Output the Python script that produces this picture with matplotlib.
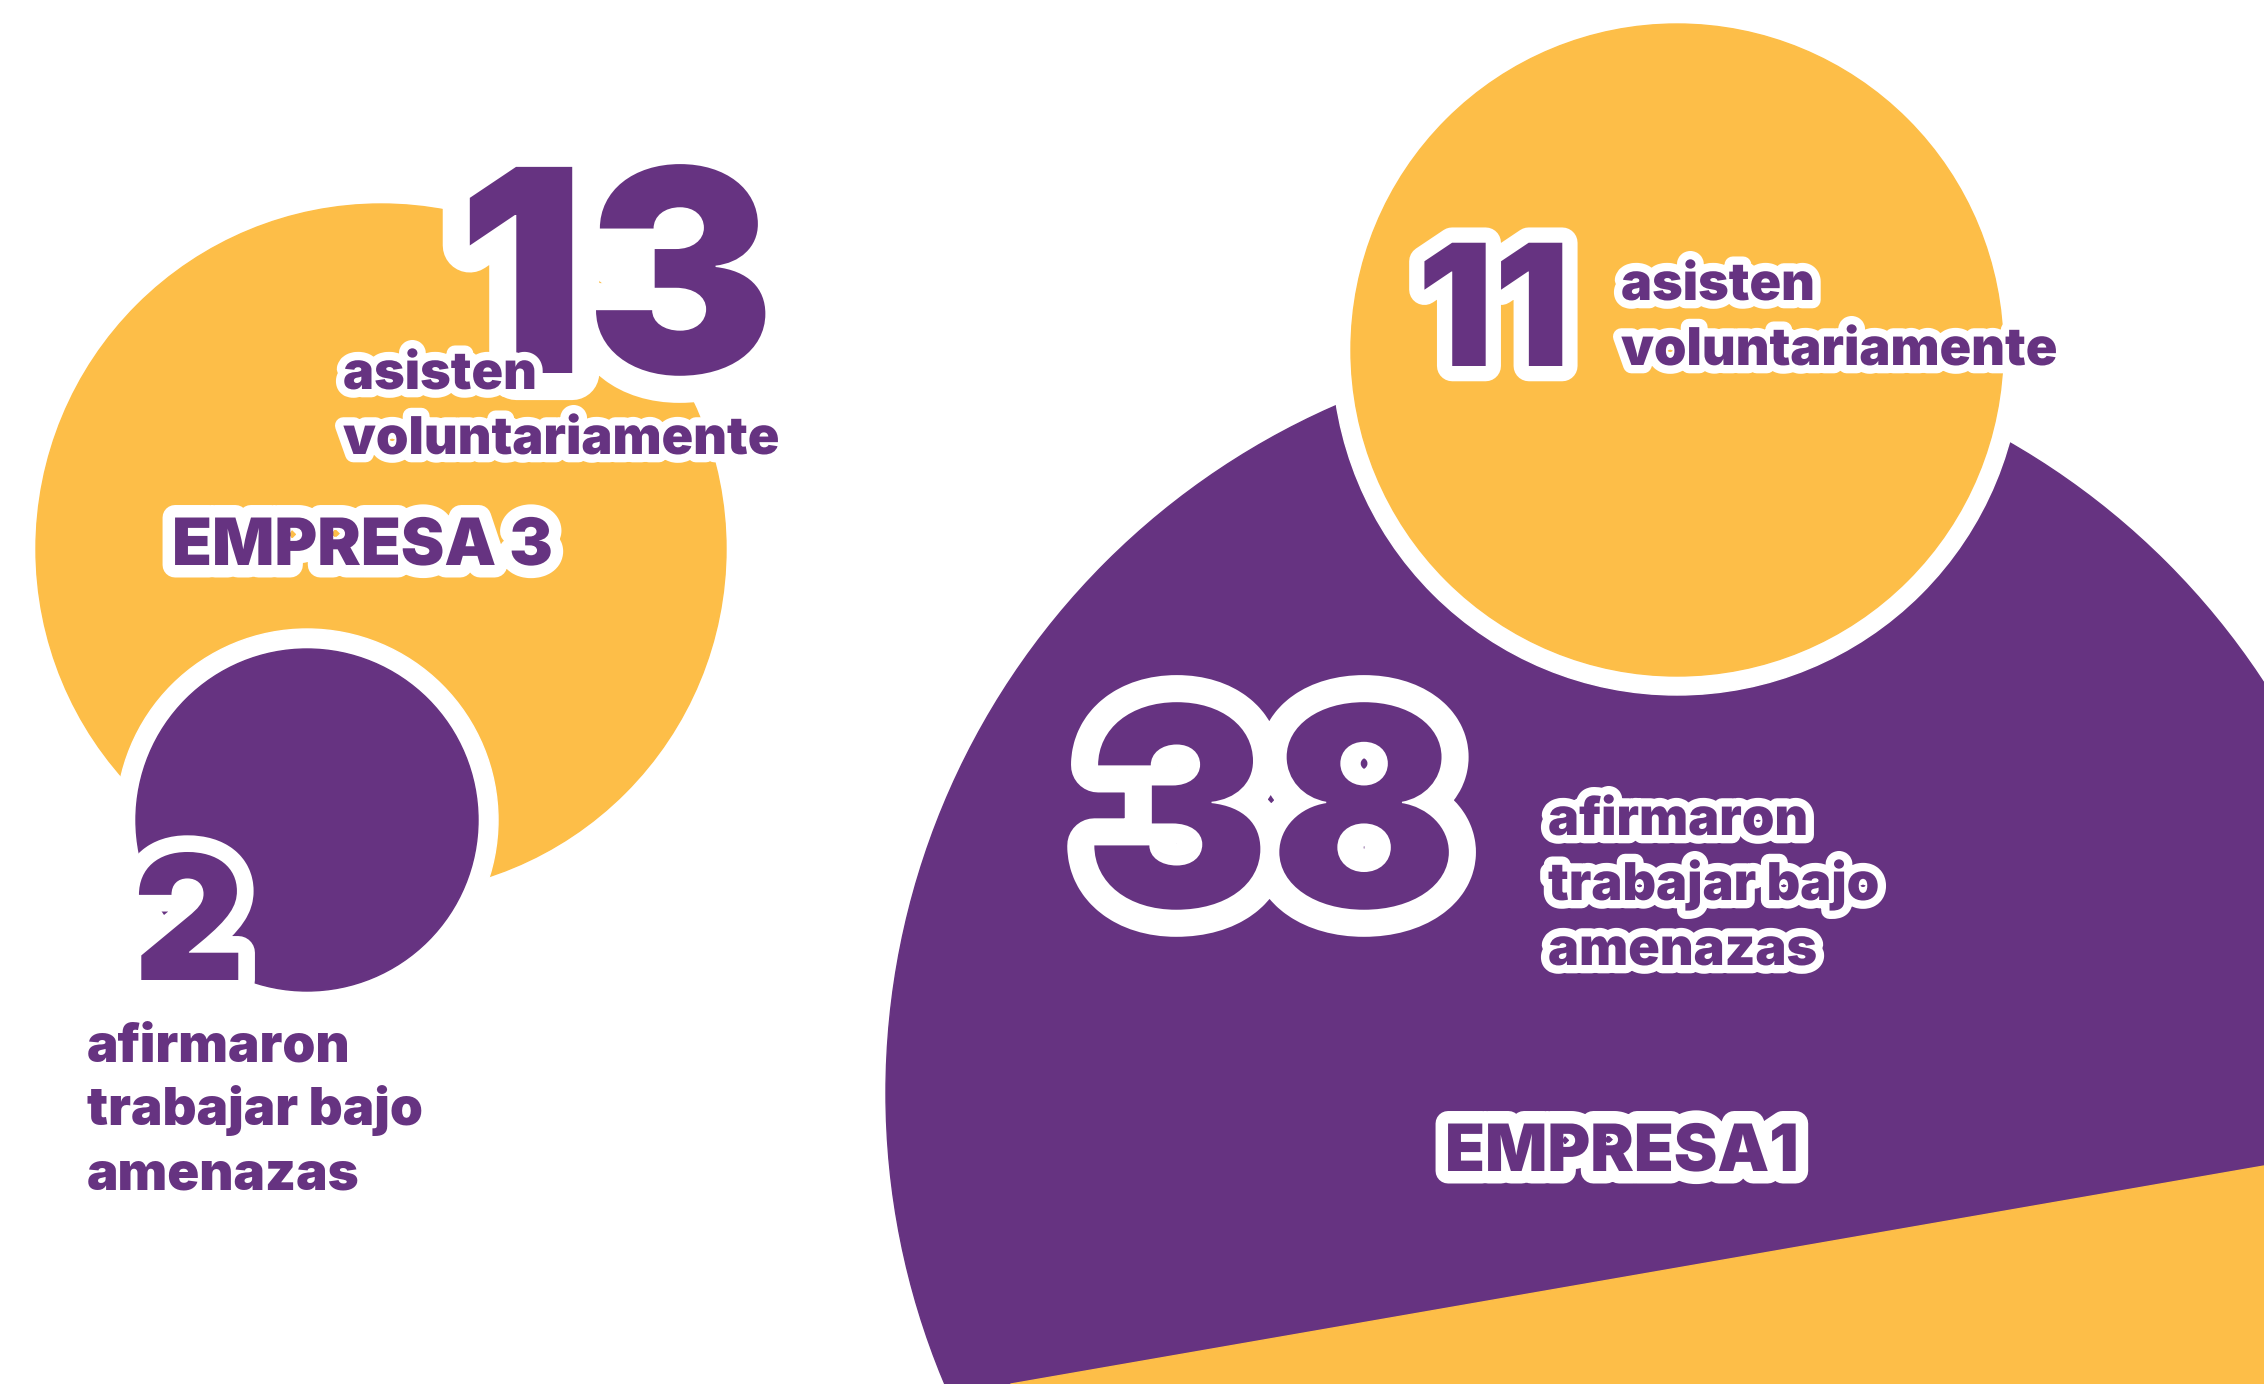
import matplotlib.pyplot as plt
import matplotlib.patheffects as pe
from matplotlib.patches import Circle, Polygon

# company figures
empresas = ["EMPRESA 3", "EMPRESA 1"]
voluntarios = [13, 11]
amenazas = [2, 38]
txt_vol = ["asisten", "voluntariamente"]
txt_amen = ["afirmaron", "trabajar bajo", "amenazas"]

YELLOW = "#FDBE48"
PURPLE = "#663381"
FONT = "Inter"

W, H = 2264, 1384
fig = plt.figure(figsize=(W / 100, H / 100), dpi=100)
ax = fig.add_axes([0, 0, 1, 1])
ax.set_xlim(0, W)
ax.set_ylim(H, 0)
ax.set_aspect("equal")
ax.axis("off")


def outline(lw):
    return [pe.withStroke(linewidth=lw, foreground="white", joinstyle="round", capstyle="round")]


def label(x, y, s, size, lw=None, ha="left", color=PURPLE):
    t = ax.text(x, y, s, fontsize=size, fontweight="black", family=FONT, color=color,
                ha=ha, va="baseline", zorder=10)
    if lw:
        t.set_path_effects(outline(lw))
    return t


# --- empresa 3 (left) ---
ax.add_patch(Circle((381, 549), 345, color=YELLOW, zorder=1))
ax.add_patch(Circle((307, 820), 191, color="white", zorder=2))
ax.add_patch(Circle((307, 820), 171, color=PURPLE, zorder=3))

label(775, 373, str(voluntarios[0]), 204, lw=39, ha="right")
label(343, 389, txt_vol[0], 37.5, lw=12)
label(343, 454, txt_vol[1], 37.5, lw=12)
label(172, 565, empresas[0], 47, lw=18)

label(133, 980, str(amenazas[0]), 125, lw=24)
for i, line in enumerate(txt_amen):
    label(87, 1061 + i * 64, line, 38)

# --- empresa 1 (right) ---
big = Circle((1636, 1093), 750, color=PURPLE, zorder=1)
ax.add_patch(big)
band = Polygon([(1011, H), (W, 1166), (W, H + 400), (1011, H + 400)],
               closed=True, color=YELLOW, zorder=2)
ax.add_patch(band)
band.set_clip_path(big)
ax.add_patch(Circle((1677, 350), 345, color="white", zorder=3))
ax.add_patch(Circle((1677, 350), 326, color=YELLOW, zorder=4))

label(1417, 366, str(voluntarios[1]), 122, lw=22)
label(1621, 300, txt_vol[0], 37.5, lw=12)
label(1621, 365, txt_vol[1], 37.5, lw=12)

label(1084, 907, str(amenazas[1]), 200, lw=39)
for i, line in enumerate(txt_amen):
    label(1548, 835 + i * 65, line, 37.5, lw=12)
label(1445, 1171, empresas[1].replace(" ", ""), 47, lw=18)

fig.savefig("out.png", dpi=100, facecolor="white")
